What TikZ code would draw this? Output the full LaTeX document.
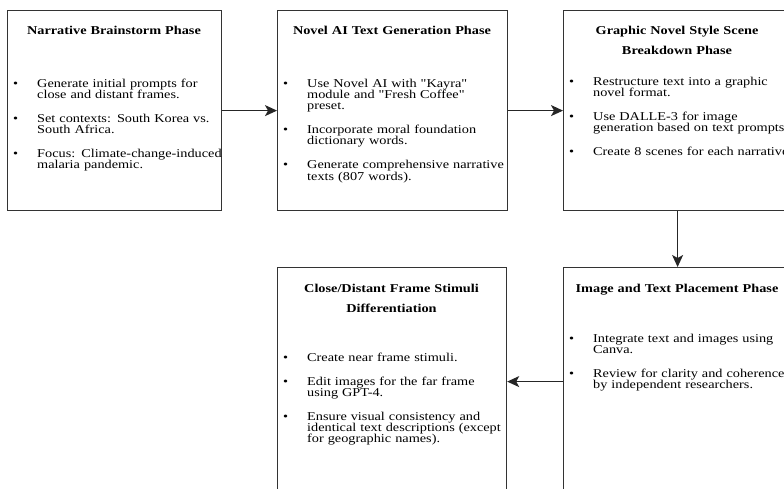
\documentclass[tikz,border=0pt]{standalone}
\usepackage{fontspec}
\setmainfont{Liberation Serif}[FakeStretch=1.19, Ligatures=TeXOff]
\usetikzlibrary{arrows.meta}
\newcommand{\bitem}[1]{\par\noindent\hangindent=24pt\hangafter=1\makebox[24pt][l]{\textbullet}#1\par}
\newcommand{\bgap}{\vspace{12.5pt}}
\begin{document}
\begin{tikzpicture}[x=1pt,y=-1pt,
  phase/.style={draw=black!80, line width=1.2pt, rectangle, inner sep=0pt, anchor=north west},
  ttl/.style={font=\fontsize{12}{20}\selectfont\bfseries, align=center, anchor=base, inner sep=0pt},
  items/.style={font=\fontsize{12}{11.3}\selectfont, text width=260pt, anchor=base west, inner sep=0pt},
  flow/.style={-{Stealth[length=12pt,width=11pt,inset=3pt]}, line width=1.2pt, draw=black!85}]
\useasboundingbox (0,0) rectangle (784,489);
\clip (0,0) rectangle (784,489);
\fill[white] (0,0) rectangle (784,489);

% boxes
\node[phase, minimum width=214pt, minimum height=200pt] (b1) at (7,10) {};
\node[phase, minimum width=230pt, minimum height=200pt] (b2) at (277,10) {};
\node[phase, minimum width=228pt, minimum height=200pt] (b3) at (563,10) {};
\node[phase, minimum width=229pt, minimum height=228pt] (b4) at (277,267) {};
\node[phase, minimum width=228pt, minimum height=228pt] (b5) at (563,267) {};

% titles
\node[ttl, text width=210pt] (t1) at (114,35) {Narrative Brainstorm Phase};
\node[ttl, text width=226pt] (t2) at (392,35) {Novel AI Text Generation Phase};
\node[ttl, text width=224pt] (t3) at (677,35) {Graphic Novel Style Scene\\Breakdown Phase};
\node[ttl, text width=225pt] (t4) at (391.5,292) {Close/Distant Frame Stimuli\\Differentiation};
\node[ttl, text width=224pt] (t5) at (677,292) {Image and Text Placement Phase};

% bullet lists
\node[items] (i1) at (13,76) {%
  \bitem{Generate initial prompts for\newline close and distant frames.}\bgap
  \bitem{Set contexts: South Korea vs.\newline South Africa.}\bgap
  \bitem{Focus: Climate-change-induced\newline malaria pandemic.}};
\node[items] (i2) at (283,76) {%
  \bitem{Use Novel AI with "Kayra"\newline module and "Fresh Coffee"\newline preset.}\bgap
  \bitem{Incorporate moral foundation\newline dictionary words.}\bgap
  \bitem{Generate comprehensive narrative\newline texts (807 words).}};
\node[items] (i3) at (569,74) {%
  \bitem{Restructure text into a graphic\newline novel format.}\bgap
  \bitem{Use DALLE-3 for image\newline generation based on text prompts.}\bgap
  \bitem{Create 8 scenes for each narrative.}};
\node[items] (i4) at (283,350) {%
  \bitem{Create near frame stimuli.}\bgap
  \bitem{Edit images for the far frame\newline using GPT-4.}\bgap
  \bitem{Ensure visual consistency and\newline identical text descriptions (except\newline for geographic names).}};
\node[items] (i5) at (569,331) {%
  \bitem{Integrate text and images using\newline Canva.}\bgap
  \bitem{Review for clarity and coherence\newline by independent researchers.}};

% connectors
\draw[flow] (b1.east) -- (b2.west);
\draw[flow] (b2.east) -- (b3.west);
\draw[flow] (b3.south) -- (b5.north);
\draw[flow] (b5.west) -- (b4.east);
\end{tikzpicture}
\end{document}
